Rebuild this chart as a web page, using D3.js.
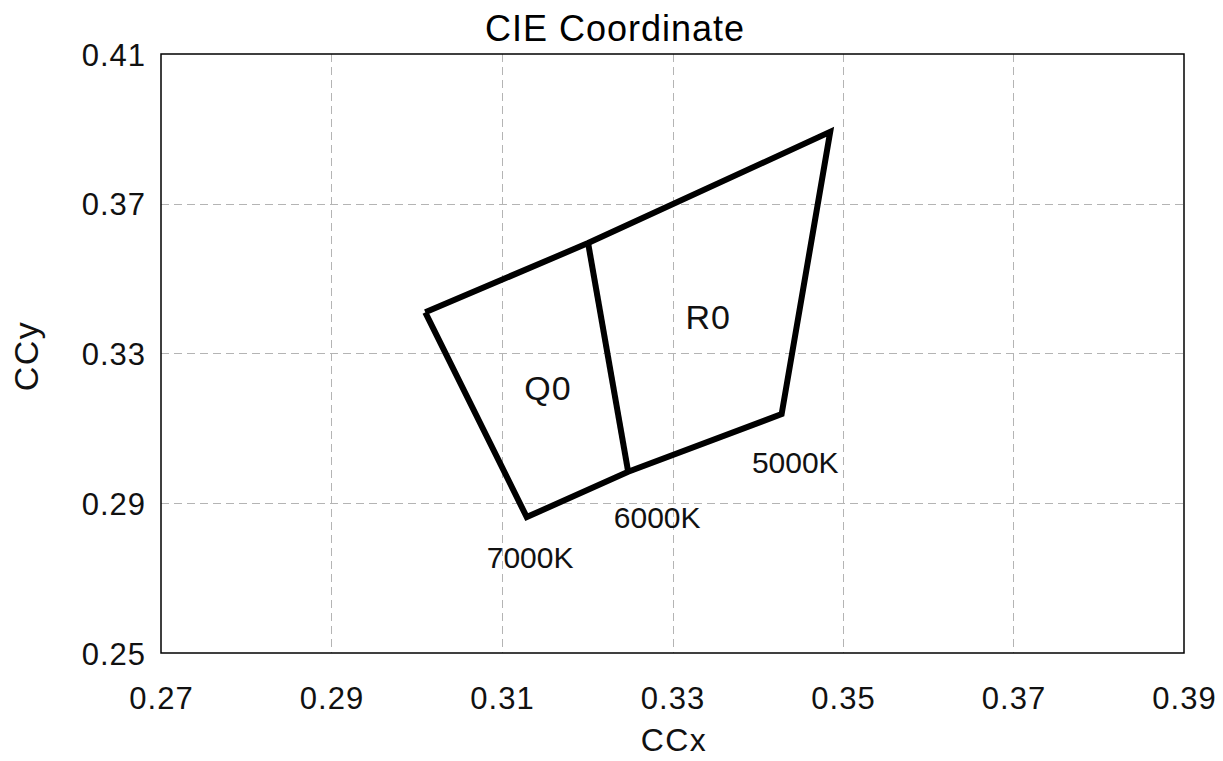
<!DOCTYPE html>
<html>
<head>
<meta charset="utf-8">
<script src="https://cdn.jsdelivr.net/npm/d3@7"></script>
<style>
  body { margin: 0; background: #fff; }
  svg { font-family: "Liberation Sans", Arial, sans-serif; }
</style>
</head>
<body>
<svg id="chart" width="1223" height="761"></svg>
<script>
// ---- data ----
const xTicks = [0.27, 0.29, 0.31, 0.33, 0.35, 0.37, 0.39];
const yTicks = [0.25, 0.29, 0.33, 0.37, 0.41];
// outer boundary of the bins (CIE x, y)
const outlineX = [0.3010, 0.3201, 0.3485, 0.3428, 0.3248, 0.3129, 0.3010];
const outlineY = [0.3410, 0.3595, 0.3892, 0.3138, 0.2984, 0.2863, 0.3410];
// divider between Q0 and R0
const dividerX = [0.3201, 0.3248];
const dividerY = [0.3595, 0.2984];
// bin labels
const binText = ["Q0", "R0"];
const binX = [0.3154, 0.3342];
const binY = [0.3208, 0.3398];
// CCT labels
const cctText = ["5000K", "6000K", "7000K"];
const cctX = [0.3444, 0.3282, 0.3133];
const cctY = [0.3010, 0.2863, 0.2755];

const margin = { left: 161, top: 54, right: 1223 - 1184, bottom: 761 - 653 };
const W = 1223, H = 761;
const svg = d3.select("#chart");
const x = d3.scaleLinear().domain([0.27, 0.39]).range([margin.left, W - margin.right]);
const y = d3.scaleLinear().domain([0.25, 0.41]).range([H - margin.bottom, margin.top]);

// grid
const grid = svg.append("g");
grid.selectAll(".vg").data(xTicks.slice(1, -1)).join("line")
  .attr("x1", d => Math.round(x(d)) + 0.5).attr("x2", d => Math.round(x(d)) + 0.5)
  .attr("y1", y(0.41)).attr("y2", y(0.25))
  .attr("stroke", "#b4b4b4").attr("stroke-width", 1).attr("stroke-dasharray", "8,5");
grid.selectAll(".hg").data(yTicks.slice(1, -1)).join("line")
  .attr("y1", d => Math.round(y(d)) + 0.5).attr("y2", d => Math.round(y(d)) + 0.5)
  .attr("x1", x(0.27)).attr("x2", x(0.39))
  .attr("stroke", "#b4b4b4").attr("stroke-width", 1).attr("stroke-dasharray", "8,5");

// frame
svg.append("rect")
  .attr("x", x(0.27)).attr("y", y(0.41))
  .attr("width", x(0.39) - x(0.27)).attr("height", y(0.25) - y(0.41))
  .attr("fill", "none").attr("stroke", "#000").attr("stroke-width", 1.5);

// axes (labels only)
const fmt = d3.format(".2f");
const xAxis = svg.append("g").attr("transform", `translate(0,${y(0.25)})`)
  .call(d3.axisBottom(x).tickValues(xTicks).tickFormat(fmt).tickSize(0).tickPadding(34));
const yAxis = svg.append("g").attr("transform", `translate(${x(0.27)},0)`)
  .call(d3.axisLeft(y).tickValues(yTicks).tickFormat(fmt).tickSize(0).tickPadding(15));
[xAxis, yAxis].forEach(a => {
  a.select(".domain").remove();
  a.selectAll("text").attr("font-size", 31).attr("fill", "#111")
    .attr("font-family", "'Liberation Sans', Arial, sans-serif").attr("letter-spacing", 1);
});
xAxis.selectAll("text").attr("dy", "0.71em");
yAxis.selectAll("text").attr("dy", "0.36em");

// polygon
const line = d3.line().x(d => x(d[0])).y(d => y(d[1]));
svg.append("path")
  .datum(outlineX.map((v, i) => [v, outlineY[i]]))
  .attr("d", line).attr("fill", "none").attr("stroke", "#000")
  .attr("stroke-width", 6).attr("stroke-linejoin", "miter");
svg.append("path")
  .datum(dividerX.map((v, i) => [v, dividerY[i]]))
  .attr("d", line).attr("fill", "none").attr("stroke", "#000")
  .attr("stroke-width", 6);

// labels
svg.selectAll(".bin").data(binText).join("text")
  .attr("x", (d, i) => x(binX[i])).attr("y", (d, i) => y(binY[i]))
  .attr("text-anchor", "middle").attr("dominant-baseline", "central")
  .attr("font-size", 34).attr("fill", "#111").attr("letter-spacing", 1)
  .text(d => d);
svg.selectAll(".cct").data(cctText).join("text")
  .attr("x", (d, i) => x(cctX[i])).attr("y", (d, i) => y(cctY[i]))
  .attr("text-anchor", "middle").attr("dominant-baseline", "central")
  .attr("font-size", 30).attr("fill", "#111")
  .text(d => d);

// titles
svg.append("text").attr("x", 615).attr("y", 28).attr("text-anchor", "middle")
  .attr("dominant-baseline", "central").attr("font-size", 36).attr("fill", "#000")
  .attr("letter-spacing", 1).text("CIE Coordinate");
svg.append("text").attr("x", 674).attr("y", 740).attr("text-anchor", "middle")
  .attr("dominant-baseline", "central").attr("font-size", 32).attr("fill", "#111")
  .attr("letter-spacing", 1.5).text("CCx");
svg.append("text").attr("transform", "translate(26,356) rotate(-90)").attr("text-anchor", "middle")
  .attr("dominant-baseline", "central").attr("font-size", 34).attr("fill", "#111")
  .attr("letter-spacing", 1.5).text("CCy");
</script>
</body>
</html>
